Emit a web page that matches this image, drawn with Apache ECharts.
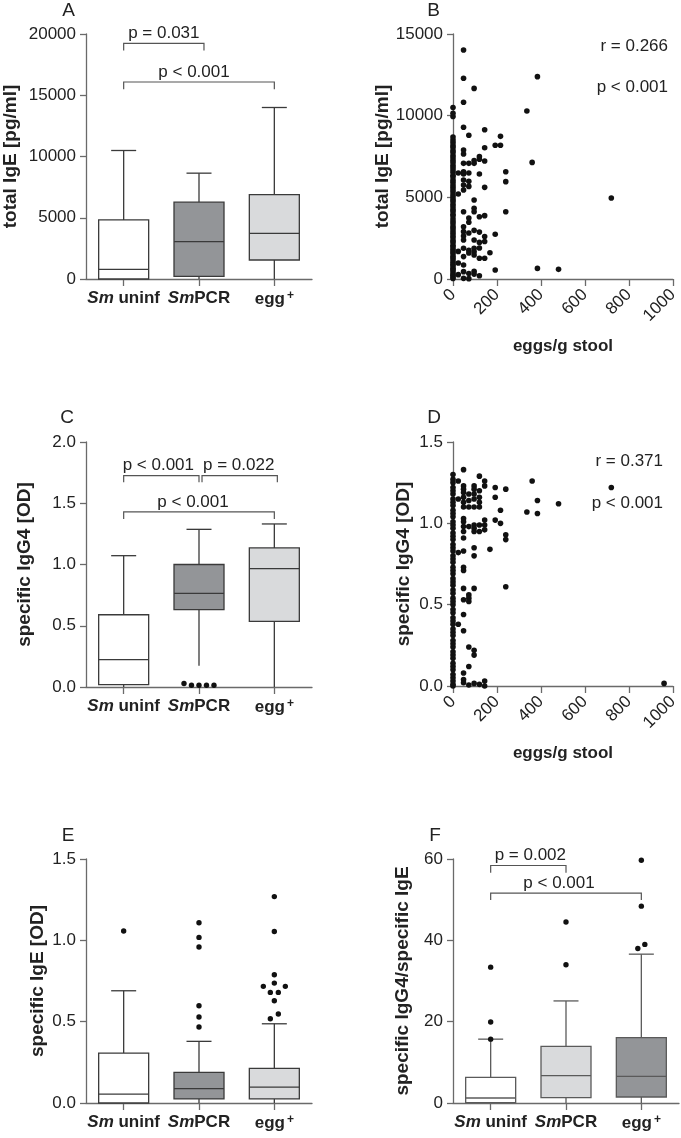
<!DOCTYPE html>
<html><head><meta charset="utf-8">
<script src="https://cdn.jsdelivr.net/npm/echarts@6/dist/echarts.min.js"></script>
<style>html,body{margin:0;padding:0;background:#fff}#c{width:681px;height:1138px}</style>
</head><body><div id="c"></div>
<script>
// ---------- DATA ----------
const groups = ['Sm uninf', 'SmPCR', 'egg+'];
// box stats: [low, q1, median, q3, high]
const boxA = [[0, 0, 790, 4820, 10490], [0, 220, 3050, 6270, 8640], [0, 1550, 3730, 6890, 14000]];
const boxC = [[0, 0.02, 0.223, 0.59, 1.072], [0.174, 0.631, 0.765, 1.0, 1.287], [0, 0.536, 0.966, 1.135, 1.331]];
const boxE = [[0, 0, 0.055, 0.307, 0.69], [0, 0.025, 0.088, 0.188, 0.379], [0, 0.025, 0.098, 0.213, 0.487]];
const boxF = [[0, 0.1, 1.23, 6.31, 15.7], [0, 1.31, 6.72, 13.9, 25.1], [0, 1.48, 6.56, 16.1, 36.6]];
// outliers per group
const outC = [[], [0.028, 0.014, 0.014, 0.014, 0.014], []];
const outE = [[1.057], [1.108, 1.018, 0.959, 0.598, 0.529, 0.467], [1.269, 1.054, 0.788, 0.737, 0.717, 0.717, 0.68, 0.68, 0.629, 0.547, 0.518]];
const outF = [[33.4, 19.9, 15.7], [44.5, 34.0], [59.7, 48.4, 38.0, 39.0]];
// significance brackets: [fromGroup, toGroup, lineValue, legValue]
const brA = [[0, 1.066, 19240, 18660], [0, 2, 16080, 15500]];
const brC = [[0, 1.0, 1.725, 1.671], [1.04, 2.04, 1.725, 1.671], [0, 2, 1.429, 1.371]];
const brF = [[0, 1, 58.4, 56.6], [0, 2, 51.6, 49.9]];
const pA = ['p = 0.031', 'p < 0.001'];
const pC = ['p < 0.001', 'p = 0.022', 'p < 0.001'];
const pF = ['p = 0.002', 'p < 0.001'];
// correlation stats
const statB = ['r = 0.266', 'p < 0.001'];
const statD = ['r = 0.371', 'p < 0.001'];
// tick labels (x of scatter)
const eggTicks = [0, 200, 400, 600, 800, 1000];
// scatter B: [eggs/g stool, total IgE pg/ml]
const ptsB = [
 [0,30],[0,120],[0,230],[0,310],[0,440],[0,560],[0,650],[0,790],[0,900],[0,1030],[0,1170],[0,1300],[0,1410],[0,1570],[0,1690],[0,1820],[0,1960],[0,2070],[0,2240],[0,2360],[0,2520],[0,2650],[0,2800],[0,2940],[0,3090],[0,3210],[0,3380],[0,3520],[0,3670],[0,3850],[0,3960],[0,4140],[0,4260],[0,4430],[0,4570],[0,4740],[0,4870],[0,5020],[0,5160],[0,5330],[0,5460],[0,5620],[0,5750],[0,5930],[0,6060],[0,6240],[0,6350],[0,6530],[0,6670],[0,6820],[0,6960],[0,7130],[0,7270],[0,7420],[0,7560],[0,7740],[0,7870],[0,8050],[0,8180],[0,8360],[0,8510],[0,8690],[0,9950],[0,10150],[0,10500],
 [24,6490],[24,5200],[24,1690],[24,980],[24,265],
 [48,14020],[48,12290],[48,10820],[48,9290],[48,7900],[48,7650],[48,7080],[48,6570],[48,6430],[48,6060],[48,5750],[48,5450],[48,4120],[48,3200],[48,2900],[48,2630],[48,2390],[48,1880],[48,1370],[48,860],[48,450],[48,40],
 [72,8800],[72,7080],[72,6490],[72,5980],[72,5670],[72,3730],[72,3470],[72,2820],[72,1760],[72,1590],[72,330],[72,20],
 [96,11670],[96,7250],[96,7080],[96,4840],[96,4330],[96,4120],[96,2980],[96,2390],[96,1880],[96,1670],[96,1470],[96,470],[96,300],
 [120,7490],[120,7330],[120,6430],[120,3815],[120,2870],[120,2240],[120,1900],[120,1270],[120,200],
 [144,9140],[144,8040],[144,7225],[144,5610],[144,3880],[144,2600],[144,2300],[144,1270],
 [168,1610],[192,8185],[192,2740],[192,550],[216,8735],[216,8185],[240,6570],[240,5960],[240,4120],
 [336,10290],[360,7140],[384,12390],[384,650],[480,590],[720,4960]
];
// scatter D: [eggs/g stool, specific IgG4 OD]
const ptsD = [
 [0,0.0],[0,0.01],[0,0.03],[0,0.05],[0,0.07],[0,0.1],[0,0.12],[0,0.14],[0,0.17],[0,0.19],[0,0.21],[0,0.24],[0,0.26],[0,0.28],[0,0.31],[0,0.33],[0,0.35],[0,0.38],[0,0.4],[0,0.42],[0,0.45],[0,0.47],[0,0.5],[0,0.52],[0,0.54],[0,0.57],[0,0.59],[0,0.62],[0,0.64],[0,0.66],[0,0.69],[0,0.71],[0,0.73],[0,0.76],[0,0.78],[0,0.8],[0,0.83],[0,0.85],[0,0.87],[0,0.9],[0,0.92],[0,0.94],[0,0.97],[0,0.99],[0,1.01],[0,1.04],[0,1.06],[0,1.08],[0,1.11],[0,1.13],[0,1.15],[0,1.18],[0,1.2],[0,1.22],[0,1.25],[0,1.27],[0,1.3],
 [24,1.26],[24,1.15],[24,0.82],[24,0.38],
 [48,1.33],[48,1.23],[48,1.21],[48,1.19],[48,1.16],[48,1.13],[48,1.1],[48,1.03],[48,1.01],[48,0.98],[48,0.95],[48,0.91],[48,0.83],[48,0.73],[48,0.71],[48,0.6],[48,0.53],[48,0.44],[48,0.34],[48,0.08],[48,0.04],[48,0.02],
 [72,1.18],[72,1.14],[72,1.1],[72,0.98],[72,0.56],[72,0.54],[72,0.52],[72,0.24],[72,0.12],[72,0.006],
 [96,1.23],[96,1.21],[96,1.18],[96,1.15],[96,1.1],[96,0.99],[96,0.97],[96,0.95],[96,0.85],[96,0.8],[96,0.6],[96,0.22],[96,0.19],[96,0.016],
 [120,1.29],[120,1.2],[120,1.16],[120,1.13],[120,1.1],[120,0.99],[120,0.95],[120,0.01],
 [144,1.26],[144,1.23],[144,1.02],[144,0.99],[144,0.96],[144,0.03],[144,0.0],
 [168,0.84],[192,1.22],[192,1.16],[192,1.02],[216,1.08],[216,1.0],[240,1.21],[240,0.93],[240,0.9],[240,0.61],
 [336,1.07],[360,1.26],[384,1.14],[384,1.06],[480,1.12],[720,1.22],[960,0.016]
];

// ---------- STYLE ----------
const FF = '"Liberation Sans", Arial, sans-serif';
const TXT = '#222';
const AX = '#6a6a6a';
const WHITE = '#ffffff', DARK = '#939598', LIGHT = '#d9dadc';
const fillsA = [WHITE, DARK, LIGHT], fillsF = [WHITE, LIGHT, DARK];
const spreadC = [[], [-15, -7.5, 0, 7.5, 15], []];
const spreadE = [[0], [0, 0, 0, 0, 0, 0], [0, 0, 0, 0, -11, 11, -4, 4, 0, 4, -4]];
const spreadF = [[0, 0, 0], [0, 0], [0, 0, -3.5, 3.5]];
const pDxA = [0, -5], pDxC = [-3, -1, -6], pDxF = [2, -7];

const grids = [
  {left: 86, top: 34, width: 226, height: 245},
  {left: 453, top: 34, width: 226, height: 245},
  {left: 86, top: 442, width: 226, height: 245},
  {left: 453, top: 442, width: 226, height: 244},
  {left: 86, top: 859, width: 226, height: 244},
  {left: 453, top: 859, width: 226, height: 244}
];

const axLine = {show: true, onZero: false, lineStyle: {color: AX, width: 1.3}};
const axTick = {show: true, length: 6, lineStyle: {color: AX, width: 1.3}};
const tickLabel = {color: TXT, fontSize: 17, fontFamily: FF};

const xAxes = [], yAxes = [];
const catAxis = (gi) => ({
  type: 'category', gridIndex: gi, data: groups, boundaryGap: true,
  axisLine: axLine, axisTick: Object.assign({alignWithLabel: true}, axTick, {length: 7}),
  axisLabel: {
    color: TXT, fontSize: 17, fontFamily: FF, fontWeight: 'bold', margin: 11, interval: 0,
    formatter: v => v.replace(/^Sm/, '{i|Sm}').replace(/\+$/, '{s|+}'),
    rich: {
      i: {fontStyle: 'italic', fontWeight: 'bold', fontSize: 17, fontFamily: FF, color: TXT},
      s: {fontWeight: 'bold', fontSize: 12, fontFamily: FF, color: TXT, padding: [0, 0, 7, 2]}
    }
  },
  splitLine: {show: false}
});
const hidAxis = (gi) => ({type: 'value', gridIndex: gi, min: -0.5, max: 2.5, show: false});
const eggAxis = (gi) => ({
  type: 'value', gridIndex: gi, min: 0, max: 1000, interval: 200,
  axisLine: axLine, axisTick: Object.assign({}, axTick, {length: 7}),
  axisLabel: Object.assign({}, tickLabel, {rotate: 45, margin: 13, formatter: v => eggTicks.includes(v) ? String(v) : ''}),
  splitLine: {show: false},
  name: 'eggs/g stool', nameLocation: 'middle', nameGap: 59,
  nameTextStyle: {color: TXT, fontSize: 17, fontWeight: 'bold', fontFamily: FF}
});
const yAx = (gi, max, interval, name, gap, dec) => ({
  type: 'value', gridIndex: gi, min: 0, max: max, interval: interval,
  axisLine: axLine, axisTick: axTick,
  axisLabel: Object.assign({}, tickLabel, {margin: 10, formatter: v => dec ? v.toFixed(1) : String(v)}),
  splitLine: {show: false},
  name: name, nameLocation: 'middle', nameRotate: 90, nameGap: gap,
  nameTextStyle: {color: TXT, fontSize: 19, fontWeight: 'bold', fontFamily: FF}
});

// x axes
xAxes.push(catAxis(0), hidAxis(0));      // 0,1  A
xAxes.push(eggAxis(1));                  // 2    B
xAxes.push(catAxis(2), hidAxis(2));      // 3,4  C
xAxes.push(eggAxis(3));                  // 5    D
xAxes.push(catAxis(4), hidAxis(4));      // 6,7  E
xAxes.push(catAxis(5), hidAxis(5));      // 8,9  F
// y axes
yAxes.push(yAx(0, 20000, 5000, 'total IgE [pg/ml]', 66, false));
yAxes.push(yAx(1, 15000, 5000, 'total IgE [pg/ml]', 59, false));
yAxes.push(yAx(2, 2.0, 0.5, 'specific IgG4 [OD]', 52, true));
yAxes.push(yAx(3, 1.5, 0.5, 'specific IgG4 [OD]', 40, true));
yAxes.push(yAx(4, 1.5, 0.5, 'specific IgE [OD]', 39, true));
yAxes.push(yAx(5, 60, 20, 'specific IgG4/specific IgE', 41, false));

function boxSeries(xi, yi, boxes, fills, stroke) {
  return {
    type: 'custom', xAxisIndex: xi, yAxisIndex: yi, z: 3,
    data: boxes.map((b, i) => [i].concat(b)),
    renderItem: (params, api) => {
      const i = api.value(0);
      const v = [1, 2, 3, 4, 5].map(k => api.value(k));
      const y = v.map(val => api.coord([i, val])[1]);
      const x = api.coord([i, v[2]])[0];
      const hw = 25, cw = 12.5;
      const ls = {stroke: stroke, lineWidth: 1.3};
      return {type: 'group', children: [
        {type: 'line', shape: {x1: x, y1: y[3], x2: x, y2: y[4]}, style: ls},
        {type: 'line', shape: {x1: x - cw, y1: y[4], x2: x + cw, y2: y[4]}, style: ls},
        {type: 'line', shape: {x1: x, y1: y[1], x2: x, y2: y[0]}, style: ls},
        {type: 'rect', shape: {x: x - hw, y: y[3], width: 2 * hw, height: y[1] - y[3]}, style: {fill: fills[params.dataIndex], stroke: stroke, lineWidth: 1.3}},
        {type: 'line', shape: {x1: x - hw, y1: y[2], x2: x + hw, y2: y[2]}, style: ls}
      ]};
    }
  };
}
function outlierSeries(xi, yi, outs, spread) {
  const data = [], dx = [];
  outs.forEach((arr, g) => arr.forEach((val, k) => { data.push([g, val]); dx.push(spread[g][k] || 0); }));
  return {
    type: 'custom', xAxisIndex: xi, yAxisIndex: yi, z: 4, data: data,
    renderItem: (params, api) => {
      const p = api.coord([api.value(0), api.value(1)]);
      return {type: 'circle', shape: {cx: p[0] + dx[params.dataIndex], cy: p[1], r: 2.7}, style: {fill: '#111'}};
    }
  };
}
function bracketSeries(xi, yi, brs, texts, dxs) {
  return {
    type: 'custom', xAxisIndex: xi, yAxisIndex: yi, z: 5, data: brs,
    renderItem: (params, api) => {
      const i = params.dataIndex;
      const a = api.coord([api.value(0), api.value(2)]), b = api.coord([api.value(1), api.value(2)]);
      const la = api.coord([api.value(0), api.value(3)]), lb = api.coord([api.value(1), api.value(3)]);
      return {type: 'group', children: [
        {type: 'polyline', shape: {points: [la, a, b, lb]}, style: {stroke: '#555', lineWidth: 1.2, fill: null}},
        {type: 'text', x: (a[0] + b[0]) / 2 + dxs[i], y: a[1] - 10,
         style: {text: texts[i], fill: TXT, font: '17px ' + FF, align: 'center', verticalAlign: 'middle', textAlign: 'center', textVerticalAlign: 'middle'}}
      ]};
    }
  };
}
function scatter(xi, yi, pts) {
  return {type: 'scatter', xAxisIndex: xi, yAxisIndex: yi, data: pts, symbol: 'circle', symbolSize: 5.6,
          itemStyle: {color: '#111', opacity: 1}, z: 4, clip: false, silent: true};
}

const series = [
  boxSeries(1, 0, boxA, fillsA, '#3a3a3a'),
  bracketSeries(1, 0, brA, pA, pDxA),
  scatter(2, 1, ptsB),
  boxSeries(4, 2, boxC, fillsA, '#3a3a3a'),
  outlierSeries(4, 2, outC, spreadC),
  bracketSeries(4, 2, brC, pC, pDxC),
  scatter(5, 3, ptsD),
  boxSeries(7, 4, boxE, fillsA, '#3a3a3a'),
  outlierSeries(7, 4, outE, spreadE),
  boxSeries(9, 5, boxF, fillsF, '#5a5a5a'),
  outlierSeries(9, 5, outF, spreadF),
  bracketSeries(9, 5, brF, pF, pDxF)
];

const gtext = (x, y, t, size, align) => ({type: 'text', x: x, y: y, silent: true,
  style: {text: t, fill: TXT, font: size + 'px ' + FF, textAlign: align, textVerticalAlign: 'middle', align: align, verticalAlign: 'middle'}});
const graphic = [
  gtext(68.5, 11, 'A', 19, 'center'), gtext(433.5, 11, 'B', 19, 'center'),
  gtext(67, 418, 'C', 19, 'center'), gtext(434, 418, 'D', 19, 'center'),
  gtext(68, 836, 'E', 19, 'center'), gtext(435, 836, 'F', 19, 'center'),
  gtext(668, 46, statB[0], 17, 'right'), gtext(668, 87, statB[1], 17, 'right'),
  gtext(663, 461, statD[0], 17, 'right'), gtext(663, 503, statD[1], 17, 'right')
];

const chart = echarts.init(document.getElementById('c'), null, {renderer: 'canvas'});
chart.setOption({
  backgroundColor: '#fff', animation: false,
  grid: grids, xAxis: xAxes, yAxis: yAxes, series: series, graphic: graphic
});
</script></body></html>
